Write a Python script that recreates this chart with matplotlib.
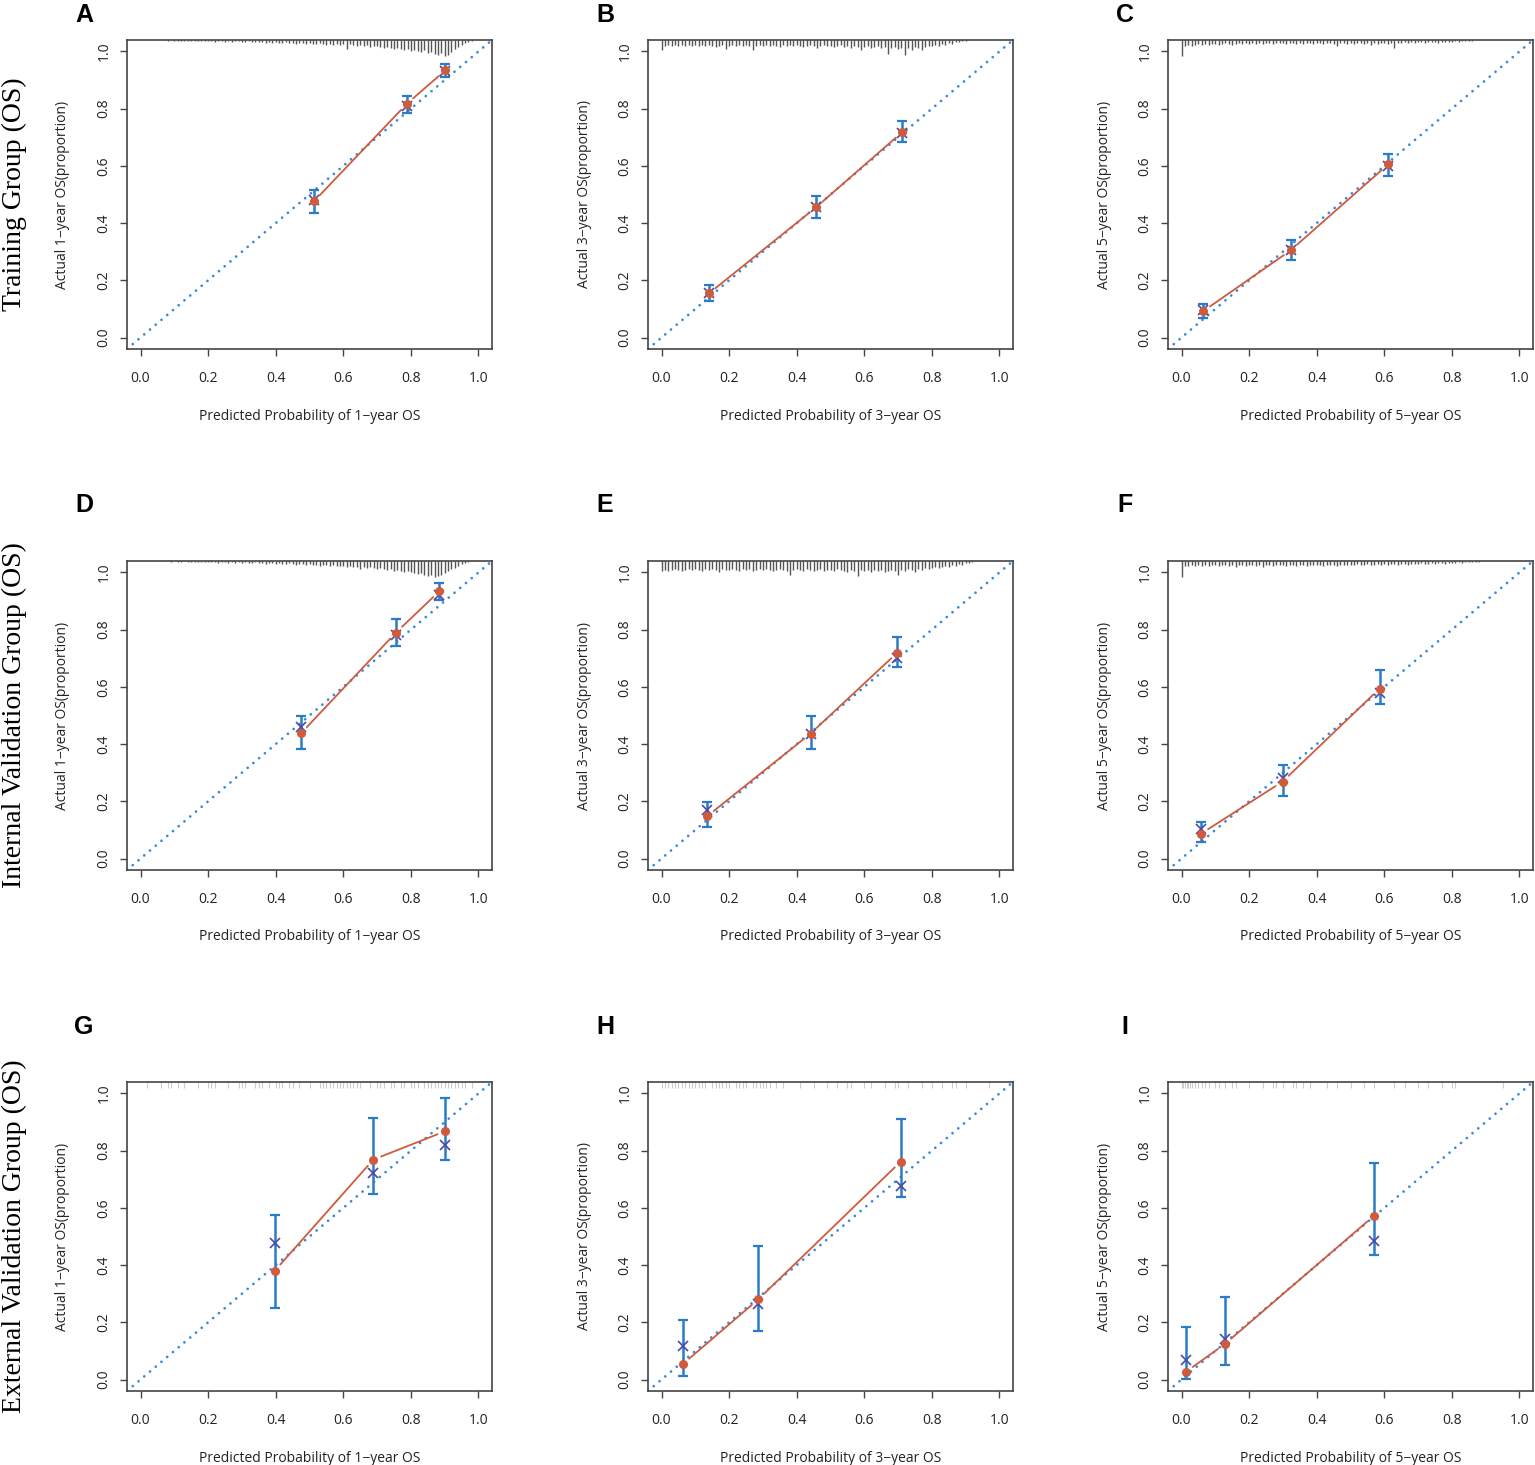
import numpy as np
import matplotlib.pyplot as plt

plt.rcParams['font.family'] = ['Open Sans', 'DejaVu Sans']

# panel letters and row titles
panel_letters = ["A", "B", "C", "D", "E", "F", "G", "H", "I"]
row_titles = ["Training Group (OS)", "Internal Validation Group (OS)", "External Validation Group (OS)"]
years = [1, 3, 5]

# calibration points: predicted, observed (red), CI low/high, bias-corrected (x)
pred = [
    [0.513, 0.788, 0.902], [0.140, 0.457, 0.712], [0.064, 0.323, 0.611],
    [0.475, 0.756, 0.884], [0.135, 0.441, 0.698], [0.058, 0.299, 0.586],
    [0.397, 0.689, 0.902], [0.063, 0.286, 0.708], [0.013, 0.128, 0.569],
]
observed = [
    [0.476, 0.817, 0.934], [0.154, 0.455, 0.718], [0.092, 0.305, 0.605],
    [0.438, 0.790, 0.934], [0.148, 0.437, 0.720], [0.087, 0.269, 0.594],
    [0.380, 0.769, 0.868], [0.054, 0.280, 0.762], [0.027, 0.124, 0.572],
]
ci_low = [
    [0.436, 0.786, 0.910], [0.127, 0.417, 0.684], [0.070, 0.270, 0.565],
    [0.382, 0.744, 0.905], [0.111, 0.382, 0.670], [0.058, 0.219, 0.539],
    [0.250, 0.647, 0.766], [0.014, 0.170, 0.638], [0.003, 0.052, 0.435],
]
ci_high = [
    [0.516, 0.846, 0.956], [0.185, 0.496, 0.757], [0.116, 0.342, 0.643],
    [0.500, 0.839, 0.962], [0.197, 0.500, 0.774], [0.127, 0.327, 0.658],
    [0.575, 0.913, 0.983], [0.209, 0.466, 0.912], [0.185, 0.289, 0.757],
]
bias_corrected = [
    [0.480, 0.810, 0.930], [0.155, 0.455, 0.715], [0.095, 0.305, 0.600],
    [0.460, 0.780, 0.920], [0.170, 0.437, 0.700], [0.104, 0.280, 0.577],
    [0.476, 0.723, 0.819], [0.116, 0.264, 0.678], [0.067, 0.142, 0.483],
]

# distribution of predicted risk (spike heights, 0.01 bins) for rows 1-2
rug_start = [0.08, 0.00, 0.00, 0.09, 0.00, 0.00]
rug_heights = [
    [1, 0, 1, 1, 1, 1, 1, 1, 1, 1, 1, 1,
     1, 1, 2, 1, 1, 2, 1, 2, 1, 1, 2, 2, 1, 2, 2,
     2, 2, 3, 2, 3, 2, 3, 3, 2, 3, 3, 4, 3, 3, 4,
     3, 4, 4, 3, 4, 5, 4, 5, 4, 5, 4,
     9,
     4, 5, 6, 5, 6, 5, 7, 6, 6, 7, 8,
     7, 8, 9, 8, 9, 10, 9, 11, 10,
     11, 12, 10, 13, 12, 14, 15, 13, 16, 15, 12,
     9, 7, 5, 3, 2, 1],
    [10, 6, 5, 6, 5, 6, 5, 6, 5, 6,
     5, 6, 5, 6, 5, 6, 7, 6, 5, 9,
     6, 5, 6, 5, 6, 5, 6, 10, 6, 5,
     6, 5, 6, 5, 6, 7, 5, 6, 5, 6,
     5, 6, 7, 6, 5, 6, 8, 6, 5, 6,
     6, 7, 6, 5, 7, 6, 8, 6, 7, 10,
     7, 6, 8, 7, 6, 8, 7, 14, 8, 7,
     9, 8, 15, 8, 10, 7, 8, 10, 7, 6,
     6, 5, 6, 4, 5, 3, 4, 2, 2, 1, 1],
    [16, 6, 5, 6, 5, 4, 5, 4, 5, 4,
     4, 5, 4, 3, 4, 5, 4, 3, 4, 3,
     4, 3, 4, 3, 4, 3, 3, 4, 3, 3,
     3, 4, 3, 3, 4, 3, 4, 3, 3, 4,
     3, 3, 4, 3, 3, 4, 6, 3, 3, 4,
     3, 4, 3, 3, 4, 3, 5, 3, 4, 3,
     3, 4, 3, 8, 3, 3, 2, 3, 2, 3,
     2, 2, 3, 2, 2, 2, 3, 2, 2, 2,
     2, 1, 2, 1, 1, 1, 1],
    [1, 0, 1, 1, 0, 1, 1, 1, 1, 1, 1,
     1, 1, 1, 2, 1, 1, 2, 1, 2, 1,
     2, 1, 2, 2, 1, 2, 2, 3, 2, 2,
     3, 2, 3, 3, 2, 3, 4, 3, 3, 4,
     3, 4, 4, 5, 4, 4, 5, 4, 5, 5,
     5, 6, 5, 6, 6, 8, 6, 7, 6, 7,
     8, 7, 8, 9, 8, 10, 9, 10, 11, 10,
     11, 12, 13, 12, 14, 15, 14, 16, 15, 14,
     12, 10, 8, 7, 5, 3, 2, 1],
    [10, 9, 10, 9, 8, 9, 10, 9, 8, 9,
     8, 9, 10, 8, 9, 8, 9, 11, 8, 9,
     9, 8, 9, 10, 8, 9, 8, 10, 9, 8,
     9, 8, 9, 10, 9, 8, 9, 10, 14, 9,
     8, 9, 10, 8, 9, 10, 9, 8, 10, 9,
     9, 10, 8, 9, 10, 11, 9, 10, 15, 9,
     10, 9, 11, 9, 10, 9, 11, 10, 9, 10,
     14, 9, 10, 8, 9, 11, 8, 9, 7, 8,
     7, 6, 7, 6, 5, 6, 4, 5, 3, 4,
     2, 2, 1],
    [16, 5, 5, 4, 5, 4, 5, 4, 5, 4,
     4, 5, 4, 4, 5, 4, 6, 4, 4, 5,
     4, 4, 5, 4, 6, 4, 4, 5, 4, 4,
     4, 5, 4, 4, 5, 4, 4, 5, 4, 4,
     4, 4, 5, 4, 4, 4, 5, 4, 4, 4,
     4, 4, 3, 4, 4, 3, 4, 4, 3, 4,
     3, 4, 3, 3, 4, 3, 3, 4, 3, 3,
     3, 2, 3, 3, 2, 3, 2, 2, 3, 2,
     2, 2, 1, 2, 1, 1, 1, 1, 1],
]

# external validation: individual predicted values shown as a light rug
ext_rug = [
    [0.02, 0.06, 0.08, 0.09, 0.11, 0.13, 0.17, 0.20, 0.21, 0.22, 0.26, 0.29, 0.30,
     0.31, 0.34, 0.35, 0.36, 0.38, 0.40, 0.41, 0.42, 0.44, 0.45, 0.47, 0.50, 0.53,
     0.54, 0.55, 0.56, 0.57, 0.58, 0.59, 0.60, 0.61, 0.62, 0.63, 0.64, 0.65, 0.68,
     0.70, 0.71, 0.72, 0.74, 0.75, 0.77, 0.78, 0.80, 0.81, 0.82, 0.84, 0.85, 0.86,
     0.87, 0.88, 0.89, 0.90, 0.91, 0.92, 0.93, 0.94, 0.95, 0.96, 0.98],
    [0.00, 0.01, 0.02, 0.03, 0.04, 0.05, 0.06, 0.07, 0.08, 0.09, 0.10, 0.11, 0.12,
     0.13, 0.15, 0.16, 0.17, 0.18, 0.19, 0.20, 0.22, 0.23, 0.24, 0.25, 0.27, 0.28,
     0.29, 0.30, 0.31, 0.32, 0.34, 0.36, 0.41, 0.45, 0.49, 0.52, 0.55, 0.56, 0.60,
     0.62, 0.66, 0.69, 0.70, 0.73, 0.77, 0.80, 0.83, 0.86, 0.87, 0.90, 0.97],
    [0.000, 0.005, 0.010, 0.015, 0.020, 0.025, 0.030, 0.040, 0.050, 0.060, 0.070,
     0.080, 0.10, 0.11, 0.13, 0.15, 0.16, 0.20, 0.24, 0.27, 0.28, 0.30, 0.33, 0.34,
     0.36, 0.38, 0.43, 0.46, 0.50, 0.54, 0.57, 0.63, 0.66, 0.70, 0.73, 0.77, 0.80,
     0.81, 0.95],
]

W, H = 1535, 1465
col_left = [127, 648, 1168]
row_top = [40, 561, 1082]
ax_w, ax_h = 365, 309
letter_y = [15, 505, 1027]

red = "#d05a3c"
blue = "#2a7bc8"
diag_blue = "#3a8ad8"
xcol = "#4a4aa8"
px = 1.08 / ax_h  # data units per pixel

fig = plt.figure(figsize=(W / 100, H / 100), dpi=100)

for i in range(9):
    r, c = divmod(i, 3)
    yr = years[c]
    ax = fig.add_axes([col_left[c] / W, 1 - (row_top[r] + ax_h) / H, ax_w / W, ax_h / H])
    ax.set_xlim(-0.04, 1.04)
    ax.set_ylim(-0.04, 1.04)

    # ideal line, round dots
    ax.axline((0, 0), (1, 1), color=diag_blue, lw=2.0, linestyle=(0, (0.01, 2.7)),
              dash_capstyle='round', zorder=1)

    # risk distribution spikes
    if r < 2:
        h = np.array(rug_heights[i], dtype=float)
        xs = rug_start[i] + 0.01 * np.arange(len(h))
        ax.vlines(xs[h > 0], 1.04 - h[h > 0] * px, 1.04, color="#555555", lw=1.0, zorder=2)
    else:
        xs = np.array(ext_rug[c])
        ax.vlines(xs, 1.04 - 6 * px, 1.04, color="#cccccc", lw=0.8, zorder=2)

    x = np.array(pred[i])
    y = np.array(observed[i])
    lo = np.array(ci_low[i])
    hi = np.array(ci_high[i])

    # observed line with gaps at the points (type "b")
    for k in range(len(x) - 1):
        ax.annotate("", xy=(x[k + 1], y[k + 1]), xytext=(x[k], y[k]),
                    arrowprops=dict(arrowstyle='-', color=red, lw=1.3,
                                    shrinkA=6, shrinkB=6), zorder=3)

    ax.errorbar(x, y, yerr=[y - lo, hi - y], fmt='none', ecolor=blue, elinewidth=1.8,
                capsize=3.5, capthick=1.6, zorder=4)
    ax.plot(x, bias_corrected[i], 'x', color=xcol, ms=6.5, mew=1.2, zorder=5)
    ax.plot(x, y, 'o', color=red, ms=5.5, mec=red, zorder=6)

    ticks = [0.0, 0.2, 0.4, 0.6, 0.8, 1.0]
    ax.set_xticks(ticks)
    ax.set_yticks(ticks)
    ax.set_xticklabels([f"{t:.1f}" for t in ticks])
    ax.set_yticklabels([f"{t:.1f}" for t in ticks], rotation=90, va='center')
    ax.tick_params(direction='out', length=5, width=1.0, color="#444444",
                   labelsize=10, labelcolor="#222222")
    ax.tick_params(axis='x', pad=11)
    ax.tick_params(axis='y', pad=6)
    for s in ax.spines.values():
        s.set_color("#444444")
        s.set_linewidth(1.2)

    ax.set_xlabel(f"Predicted Probability of {yr}\u2212year OS", fontsize=10,
                  color="#222222", va='center')
    ax.xaxis.set_label_coords(0.5, -67 / ax_h)
    ax.set_ylabel(f"Actual {yr}\u2212year OS(proportion)", fontsize=10,
                  color="#222222", va='center')
    ax.yaxis.set_label_coords(-64 / ax_w, 0.5)

    fig.text((col_left[c] - 43) / W, 1 - letter_y[r] / H, panel_letters[i],
             fontsize=18, fontweight='bold', family=['Liberation Sans', 'DejaVu Sans'],
             ha='center', va='center')

for r in range(3):
    fig.text(14 / W, 1 - (row_top[r] + ax_h / 2) / H, row_titles[r], rotation=90,
             fontsize=20, family=['Liberation Serif', 'DejaVu Serif'],
             ha='center', va='center')

fig.savefig("out.png", dpi=100)
